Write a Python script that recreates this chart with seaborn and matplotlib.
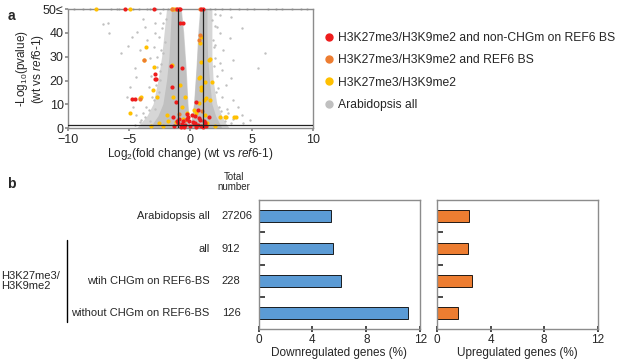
import matplotlib
matplotlib.use("Agg")
import matplotlib.pyplot as plt
import seaborn as sns
from matplotlib.lines import Line2D

# ---- panel a: volcano ----
# dense grey core, drawn as outlines of the two wedges (outer halo + inner core)
halo_left_x = [-0.7, -1.9, -2.1, -2.3, -2.6, -3.0, -3.5, -4.0, -4.3, 0.0, -0.05, -0.15, -0.3, -0.5]
halo_left_y = [50, 50, 40, 30, 20, 10, 5, 2, 0, 0, 3, 10, 25, 40]
halo_right_x = [0.8, 1.8, 1.8, 1.8, 1.9, 2.2, 2.6, 2.9, 3.2, 0.0, 0.1, 0.3, 0.5, 0.65]
halo_right_y = [50, 50, 40, 30, 20, 10, 5, 2, 0, 0, 3, 10, 25, 40]
core_left_x = [-0.75, -1.5, -1.6, -1.7, -1.9, -2.2, -2.6, -3.0, -3.3, 0.0, -0.08, -0.2, -0.35, -0.55]
core_left_y = [50, 50, 40, 30, 20, 10, 5, 2, 0, 0, 3, 10, 25, 40]
core_right_x = [0.85, 1.4, 1.4, 1.45, 1.6, 1.8, 2.1, 2.4, 2.6, 0.0, 0.12, 0.33, 0.53, 0.7]
core_right_y = [50, 50, 40, 30, 20, 10, 5, 2, 0, 0, 3, 10, 25, 40]

grey_x = [-7.1, -6.76, -6.65, -5.67, -5.07, -4.8, -4.34, -3.9, -3.7, -3.5, -4.1, -4.5, -4.4,
          -4.9, -5.2, -4.7, -3.85, -3.4, -3.3, -2.9, -2.6, -2.5, -3.0, -2.2, -2.75, -2.5,
          -3.0, -3.6, -4.0, -4.4, -2.3, -2.1, -2.4, -2.6, -3.2, -2.9,
          -2.0, -2.2, -2.4, -2.5, -2.8, -3.1, -3.4, -3.7, -4.1, -4.5, -2.7, -2.9, -3.3,
          2.4, 3.36, 4.18, 6.08, 5.53, 3.5, 2.55, 2.95, 2.27, 3.5, 3.9, 3.1, 4.18, 1.86,
          2.14, 1.73, 2.68, 2.0, 2.4, 3.22, 4.3, 4.86, 2.2, 2.6, 1.9, 2.0, 3.3,
          1.95, 2.05, 2.1, 2.3, 2.5, 2.8, 3.0, 3.3, 3.5, 2.0, 2.4,
          -9.5, -8.8, -8.2, -6.5, -6.0, -5.8, -4.7, -4.2, -3.5, -3.3, -2.8, -2.2, -1.8,
          1.6, 2.0, 2.6, 3.2, 4.0, 4.6, 5.2, 6.3, 7.0, 7.5, 8.3, 9.0, 9.5]
grey_y = [43.7, 44.2, 39.8, 31.4, 34.5, 38.1, 40.3, 45.7, 42.6, 37.0, 32.8, 25.1, 21.6,
          17.4, 13.2, 9.0, 6.2, 17.4, 29.3, 44.0, 38.4, 48.2, 34.2, 31.4, 25.8, 20.2,
          11.8, 9.0, 3.4, 5.5, 42.0, 36.0, 27.0, 15.0, 22.0, 8.0,
          46.0, 44.0, 33.0, 24.0, 18.0, 13.0, 7.5, 4.5, 2.5, 1.5, 30.0, 40.0, 3.0,
          47.5, 46.8, 41.9, 31.4, 25.1, 28.6, 24.4, 18.1, 16.7, 11.8, 9.0, 6.2, 5.5, 37.0,
          42.6, 45.4, 32.8, 29.3, 39.8, 37.7, 2.0, 3.4, 22.0, 13.0, 34.0, 48.0, 21.0,
          26.0, 35.0, 15.0, 9.0, 7.0, 3.0, 8.0, 2.0, 4.0, 43.0, 27.5,
          50, 50, 50, 50, 50, 50, 50, 50, 50, 50, 50, 50, 50,
          50, 50, 50, 50, 50, 50, 50, 50, 50, 50, 50, 50, 50]

yellow_x = [-7.7, -4.9, -1.5, -1.35, -3.77, -2.95, -4.12, -4.0, -3.04, -2.76, -3.63, -4.94,
            -1.53, -0.86, -0.45, -1.4, -1.94, -0.72, 0.78, 0.9, 0.91, 1.53, 0.72, 0.91,
            1.6, 1.1, 2.4, 2.9, 3.7, 0.7, 0.5, 1.59, 0.78, 1.18, 1.8, 1.3, 2.8, 3.6, 0.84,
            -2.6, -2.2, -1.8, -1.2, -0.6, 1.4, 2.0, 1.2, -3.2, -0.3, 0.3]
yellow_y = [50, 50, 50, 50, 28.6, 25.8, 12.5, 13.0, 16.0, 13.2, 34.2, 6.2,
            26.5, 18.1, 13.2, 13.2, 5.5, 9.0, 35.6, 38.4, 27.9, 28.6, 20.9, 16.0,
            11.8, 11.8, 4.7, 4.5, 4.7, 10.4, 6.2, 28.9, 21.6, 19.5, 19.5, 12.5, 4.7, 4.7, 17.4,
            2.0, 1.0, 3.0, 2.5, 4.0, 2.2, 1.0, 5.5, 0.8, 6.5, 7.5]

orange_x = [-1.5, -1.2, 0.8, 0.78, 0.7, -3.77, -4.12, -0.9, 0.95, -0.4, 1.2]
orange_y = [50, 50, 50, 39.0, 37.0, 28.6, 12.3, 6.0, 7.0, 3.5, 2.5]

red_x = [-5.35, -2.95, -1.1, -0.95, -0.85, 1.05, 0.9, -4.8, -2.87, -2.87, -1.49, -0.72, -0.86,
         -1.6, -2.8, -1.18, -4.5, 0.5, 0.65, 1.5, -1.4, -0.6,
         -1.3, -1.0, -0.8, -0.6, -0.4, -0.2, 0.0, 0.2, 0.4, 0.6, 0.8, 1.0, 1.2,
         -0.9, -0.5, -0.1, 0.3, 0.7, 1.1, -0.7, -0.3, 0.1, 0.5, 0.9, -1.1, 1.3, -0.25, 0.35]
red_y = [50, 50, 50, 50, 50, 50, 50, 12.1, 22.7, 20.6, 17.4, 25.1, 44.0,
         26.0, 20.6, 11.0, 12.2, 11.0, 7.8, 4.7, 4.7, 44.0,
         1.0, 2.0, 0.5, 3.0, 1.5, 4.5, 0.8, 2.5, 5.0, 1.2, 3.5, 0.6, 2.0,
         4.0, 0.3, 2.8, 1.8, 4.2, 3.0, 1.6, 3.8, 5.5, 0.4, 1.0, 3.2, 0.9, 6.0, 2.2]

legend_labels = ["H3K27me3/H3K9me2 and non-CHGm on REF6 BS",
                 "H3K27me3/H3K9me2 and REF6 BS",
                 "H3K27me3/H3K9me2",
                 "Arabidopsis all"]

# ---- panel b: bars ----
categories = ["Arabidopsis all", "all", "wtih CHGm on REF6-BS", "without CHGm on REF6-BS"]
totals = ["27206", "912", "228", "126"]
down_pct = [5.4, 5.5, 6.1, 11.1]
up_pct = [2.4, 2.3, 2.6, 1.55]

RED = "#ee1c1c"
ORANGE = "#ed7d31"
YELLOW = "#ffc000"
GREY = "#c0c0c0"
HALO = "#d6d6d6"
BLUE = "#5b9bd5"
SPINE = "#8c8c8c"

sns.set_theme(style="white")
plt.rcParams["font.family"] = ["Liberation Sans", "DejaVu Sans"]
plt.rcParams["mathtext.fontset"] = "custom"
plt.rcParams["mathtext.rm"] = "Liberation Sans"
plt.rcParams["mathtext.it"] = "Liberation Sans:italic"

fig = plt.figure(figsize=(6.17, 3.62), dpi=100)

# volcano
ax = fig.add_axes([0.110, 0.646, 0.397, 0.329])
ax.fill(halo_left_x, halo_left_y, color=HALO, lw=0, zorder=1)
ax.fill(halo_right_x, halo_right_y, color=HALO, lw=0, zorder=1)
ax.fill(core_left_x, core_left_y, color=GREY, lw=0, zorder=1.5)
ax.fill(core_right_x, core_right_y, color=GREY, lw=0, zorder=1.5)
sns.scatterplot(x=grey_x, y=grey_y, color=GREY, s=3, linewidth=0, ax=ax, zorder=2, clip_on=False)
sns.scatterplot(x=yellow_x, y=yellow_y, color=YELLOW, s=9, linewidth=0, ax=ax, zorder=3, clip_on=False)
sns.scatterplot(x=orange_x, y=orange_y, color=ORANGE, s=9, linewidth=0, ax=ax, zorder=4, clip_on=False)
sns.scatterplot(x=red_x, y=red_y, color=RED, s=9, linewidth=0, ax=ax, zorder=5, clip_on=False)
ax.axvline(-1, color="#222222", lw=0.9, zorder=6)
ax.axvline(1, color="#222222", lw=0.9, zorder=6)
ax.axhline(1.3, color="#222222", lw=0.9, zorder=6)
ax.set_xlim(-10, 10)
ax.set_ylim(0, 50)
ax.set_xticks([-10, -5, 0, 5, 10])
ax.set_yticks([0, 10, 20, 30, 40, 50])
ax.set_yticklabels(["0", "10", "20", "30", "40", "50≤"])
ax.tick_params(labelsize=9, length=2, pad=1, color=SPINE)
ax.tick_params(axis="x", pad=2.5)
ax.tick_params(axis="both", which="both", left=True, bottom=True)
for sp in ax.spines.values():
    sp.set_color(SPINE)
    sp.set_linewidth(1.0)
ax.set_xlabel(r"Log$_{2}$(fold change) (wt vs $\it{ref6}$-$\it{1}$)", fontsize=8.5, labelpad=0)
ax.set_ylabel("-Log$_{10}$(pvalue)\n(wt vs $\\it{ref6}$-$\\it{1}$)", fontsize=8.5,
              linespacing=1.0)
ax.yaxis.set_label_coords(-0.09, 0.5)

handles = [Line2D([], [], marker="o", ls="", color=c, markersize=5)
           for c in [RED, ORANGE, YELLOW, GREY]]
fig.legend(handles, legend_labels, loc="upper left", bbox_to_anchor=(0.515, 0.925),
           frameon=False, fontsize=8.7, handletextpad=0.3, labelspacing=0.85,
           handlelength=1.0, borderaxespad=0)

fig.text(0.012, 0.975, "a", fontsize=10, fontweight="bold", va="top")
fig.text(0.012, 0.51, "b", fontsize=10, fontweight="bold", va="top")

# bar panels
ax_d = fig.add_axes([0.419, 0.090, 0.262, 0.3575])
ax_u = fig.add_axes([0.708, 0.090, 0.261, 0.3575])
sns.barplot(x=down_pct, y=categories, color=BLUE, edgecolor="black", linewidth=0.6,
            width=0.36, saturation=1, ax=ax_d, orient="h")
sns.barplot(x=up_pct, y=categories, color=ORANGE, edgecolor="black", linewidth=0.6,
            width=0.36, saturation=1, ax=ax_u, orient="h")

for a, lab in [(ax_d, "Downregulated genes (%)"), (ax_u, "Upregulated genes (%)")]:
    a.set_xlim(0, 12)
    a.set_xticks([0, 4, 8, 12])
    a.set_ylim(3.5, -0.5)
    a.set_yticks([0.5, 1.5, 2.5])
    a.set_yticklabels([])
    a.set_ylabel("")
    a.set_xlabel(lab, fontsize=8.5, labelpad=1)
    a.tick_params(axis="x", labelsize=8.5, direction="inout", length=4, pad=1, color="#333333")
    a.tick_params(axis="y", direction="in", length=4, color="#333333")
    a.tick_params(left=True, bottom=True)
    for sp in a.spines.values():
        sp.set_color(SPINE)
        sp.set_linewidth(1.0)

for i, (cat, tot) in enumerate(zip(categories, totals)):
    ax_d.text(-0.302, i, cat, transform=ax_d.get_yaxis_transform(), ha="right",
              va="center", fontsize=8)
    ax_d.text(-0.228, i, tot, transform=ax_d.get_yaxis_transform(), ha="left",
              va="center", fontsize=8)

fig.text(0.379, 0.497, "Total\nnumber", ha="center", va="center", fontsize=7, linespacing=1.0)
fig.add_artist(Line2D([0.1086, 0.1086], [1 - 240 / 362, 1 - 322 / 362],
                      color="black", lw=1.0, transform=fig.transFigure))
fig.text(0.002, 1 - 281 / 362, "H3K27me3/\nH3K9me2", ha="left", va="center",
         fontsize=8, linespacing=1.0)

fig.savefig("out.png", dpi=100)
